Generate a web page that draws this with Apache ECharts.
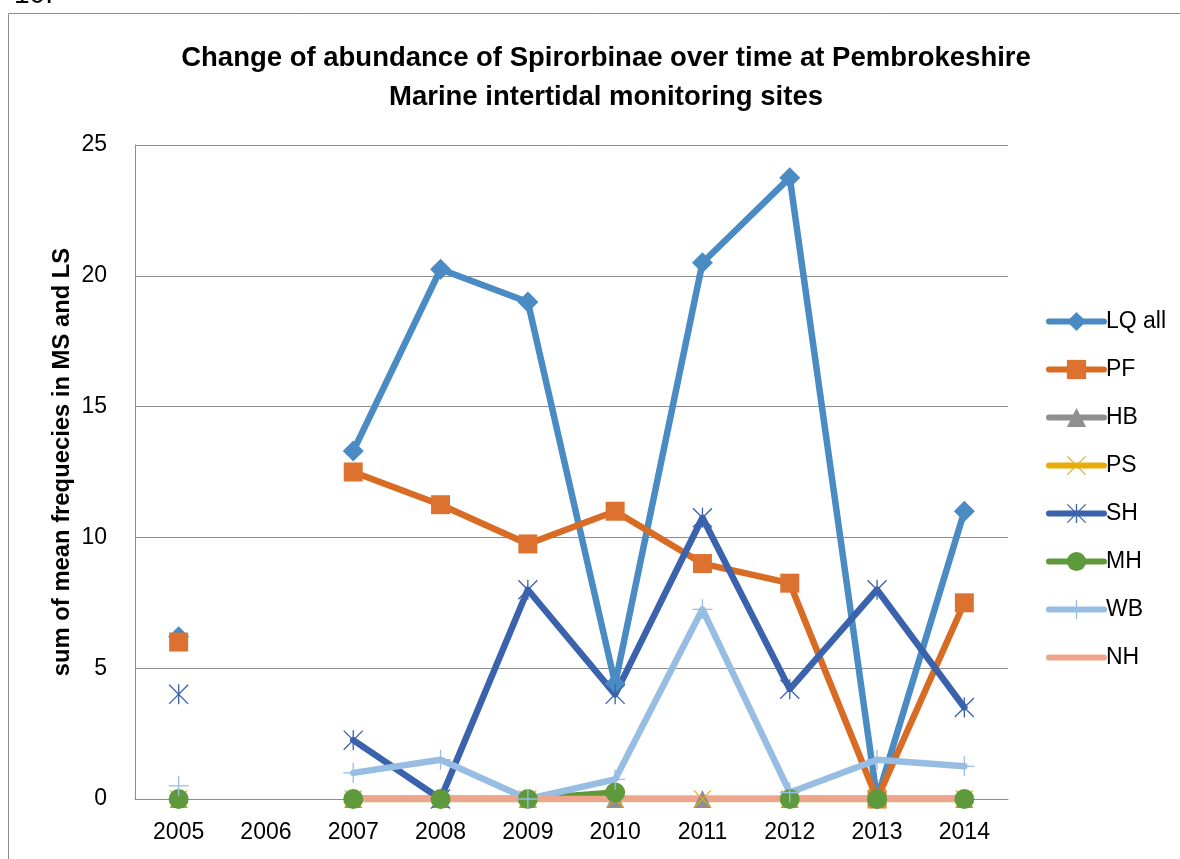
<!DOCTYPE html>
<html><head><meta charset="utf-8">
<script src="https://cdn.jsdelivr.net/npm/echarts@6/dist/echarts.min.js"></script>
<style>html,body{margin:0;padding:0;background:#fff}#c{width:1180px;height:859px}</style>
</head><body><div id="c"></div>
<script>
const years = ['2005','2006','2007','2008','2009','2010','2011','2012','2013','2014'];
const lqAll = [6.2, null, 13.3, 20.25, 19.0, 4.4, 20.5, 23.75, 0, 11.0];
const pf    = [6.0, null, 12.5, 11.25, 9.75, 11.0, 9.0, 8.25, 0, 7.5];
const hb    = [0, null, 0, 0, 0, 0, 0, 0, 0, 0];
const ps    = [0, null, 0, 0, 0, 0, 0, 0, 0, 0];
const sh    = [4.0, null, 2.25, 0, 8.0, 4.0, 10.75, 4.2, 8.0, 3.5];
const mh    = [0, null, 0, 0, 0, 0.25, null, 0, 0, 0];
const wb    = [0.5, null, 1.0, 1.5, 0, 0.75, 7.25, 0.25, 1.5, 1.25];
const nh    = [null, null, 0, 0, 0, 0, 0, 0, 0, 0];
const yTicks = [0, 5, 10, 15, 20, 25];
const yName = 'sum of mean frequecies in MS and LS';

const FONT = 'Liberation Sans';
const xPath = 'path://M-9.5,-10.5L10.5,9.5L9.5,10.5L-10.5,-9.5Z M9.5,-10.5L10.5,-9.5L-9.5,10.5L-10.5,9.5Z';
const starPath = 'path://M-9.5,-10.5L10.5,9.5L9.5,10.5L-10.5,-9.5Z M9.5,-10.5L10.5,-9.5L-9.5,10.5L-10.5,9.5Z M-0.7,-10.5L0.7,-10.5L0.7,10.5L-0.7,10.5Z';
const plusPath = 'path://M-0.7,-10.5L0.7,-10.5L0.7,10.5L-0.7,10.5Z M-10.5,-0.7L10.5,-0.7L10.5,0.7L-10.5,0.7Z';

function mk(name, data, color, symbol, size, markerColor) {
  return {
    name, type: 'line', data, connectNulls: false,
    symbol, symbolSize: size, showSymbol: symbol !== 'none',
    lineStyle: { color, width: 6.5, cap: 'round', join: 'round' },
    itemStyle: { color: markerColor || color, borderWidth: 0 },
    emphasis: { disabled: true },
    animation: false
  };
}

const chart = echarts.init(document.getElementById('c'));
chart.setOption({
  animation: false,
  graphic: [
    { type: 'rect', shape: { x: 8.5, y: 13.5, width: 1300, height: 1000 },
      style: { fill: 'none', stroke: '#8c8c8c', lineWidth: 1 }, silent: true },
    { type: 'text', left: 14, top: -19, style: { text: '10.', font: '28px ' + FONT, fill: '#000' } },
    { type: 'text', x: 62, y: 462, rotation: Math.PI / 2,
      style: { text: yName, font: 'bold 23.8px ' + FONT, fill: '#000', align: 'center', verticalAlign: 'middle' } }
  ],
  title: {
    text: 'Change of abundance of Spirorbinae over time at Pembrokeshire\nMarine intertidal monitoring sites',
    left: 601, top: 34, textAlign: 'center',
    textStyle: { fontFamily: FONT, fontWeight: 'bold', fontSize: 27.5, lineHeight: 39, color: '#000' }
  },
  legend: {
    orient: 'vertical', left: 1046, top: 310, itemGap: 25, itemWidth: 55, itemHeight: 24, padding: 0,
    textStyle: { fontFamily: FONT, fontSize: 23, color: '#000', padding: [0,0,0,-3] },
    lineStyle: { width: 6, cap: 'round' },
    data: ['LQ all','PF','HB','PS','SH','MH','WB',{ name: 'NH', itemStyle: { opacity: 0 } }]
  },
  grid: { left: 135, right: 172, top: 145, bottom: 60, containLabel: false },
  xAxis: {
    type: 'category', data: years, boundaryGap: true,
    axisLine: { lineStyle: { color: '#8c8c8c', width: 1 } },
    axisTick: { show: false },
    axisLabel: { fontFamily: FONT, fontSize: 23, color: '#000', margin: 22 }
  },
  yAxis: {
    type: 'value', min: yTicks[0], max: yTicks[yTicks.length-1], interval: 5,
    axisLine: { show: true, lineStyle: { color: '#8c8c8c', width: 1 } },
    axisTick: { show: false },
    splitLine: { lineStyle: { color: '#8c8c8c', width: 1 } },
    axisLabel: { fontFamily: FONT, fontSize: 23, color: '#000', margin: 28 }
  },
  series: [
    mk('LQ all', lqAll, '#4a8bc4', 'diamond', 21),
    mk('PF', pf, '#d96c25', 'rect', 19, '#dd7230'),
    mk('HB', hb, '#8f8f8f', 'triangle', 18),
    mk('PS', ps, '#e8ad0c', xPath, 18),
    mk('SH', sh, '#3b63ad', starPath, 20),
    mk('MH', mh, '#5e9a3c', 'circle', 20),
    mk('WB', wb, '#97bde3', plusPath, 20),
    mk('NH', nh, '#eda68b', 'none', 0)
  ]
});
</script></body></html>
